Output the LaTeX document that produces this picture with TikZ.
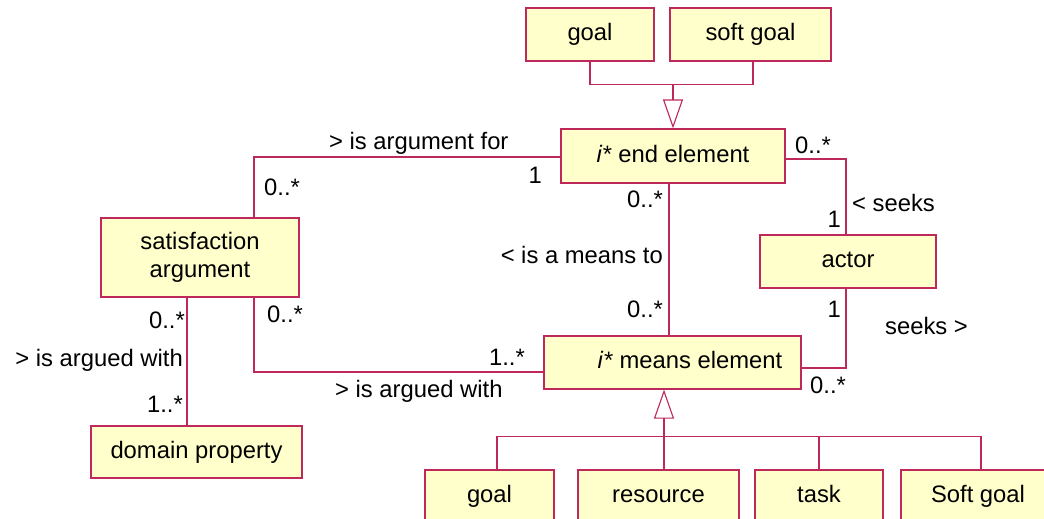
\documentclass[tikz,border=0pt]{standalone}
\usepackage{fontspec}
\setmainfont{Liberation Sans}
\usetikzlibrary{arrows.meta}
\definecolor{lc}{RGB}{190,40,90}
\definecolor{bf}{RGB}{255,255,204}
\tikzset{
  box/.style={draw=lc, fill=bf, line width=1.2pt, inner sep=0pt, rectangle,
    font=\fontsize{23.8}{28}\selectfont},
  onel/.style={text height=17pt, text depth=5pt},
  lowbox/.style={text height=32pt, text depth=28pt},
  conn/.style={draw=lc, line width=1.1pt},
  gen/.style={conn, -{Triangle[open, length=29pt, width=20pt, line width=1.1pt]}},
  lbl/.style={inner sep=0pt, font=\fontsize{23.8}{28}\selectfont}
}
\begin{document}
\begin{tikzpicture}[x=1pt, y=-1pt]
\useasboundingbox (0,0) rectangle (1044,519);
\fill[white] (0,0) rectangle (1044,519);
\clip (0,0) rectangle (1044,519);

% boxes
\node[box, onel, minimum width=128pt, minimum height=53pt] (g1) at (590,34.5) {goal};
\node[box, onel, minimum width=161pt, minimum height=53pt] (sg1) at (750.5,34.5) {soft goal};
\node[box, onel, minimum width=224pt, minimum height=54pt] (endel) at (673,156) {\textit{i*} end element};
\node[box, align=center, minimum width=198pt, minimum height=79pt] (sat) at (200,257.5) {satisfaction\\argument};
\node[box, onel, minimum width=176pt, minimum height=53pt] (actor) at (848,261.5) {actor};
\node[box, onel, minimum width=257pt, minimum height=53pt] (means) at (672.5,362.5) {\hspace*{35pt}\textit{i*} means element};
\node[box, onel, minimum width=211pt, minimum height=52pt] (domain) at (196.5,452) {domain property};
\node[box, lowbox, minimum width=129pt] (b1) at (489.5,500) {goal};
\node[box, lowbox, minimum width=161pt] (b2) at (658.5,500) {resource};
\node[box, lowbox, minimum width=128pt] (b3) at (819,500) {task};
\node[box, lowbox, minimum width=154pt] (b4) at (978,500) {Soft goal};

% top generalization
\coordinate (tbar) at (673,84);
\draw[conn] (g1.south) -- ++(0,23) -| ([xshift=2.5pt]sg1.south);
\draw[gen] (tbar) -- (endel.north);

% bottom generalization
\coordinate (bbar) at (664,437);
\draw[conn] ([xshift=7.5pt]b1.north) -- ++(0,-33) -| ([xshift=3pt]b4.north);
\draw[conn] (bbar) -- ([xshift=5.5pt]b2.north);
\draw[conn] (b3.north) -- (b3.north |- bbar);
\draw[gen] (bbar) -- (bbar |- means.south);

% associations
\draw[conn] ([yshift=-1pt]endel.west) -| ([xshift=54pt]sat.north);
\draw[conn] ([yshift=-3pt]endel.east) -| ([xshift=-2pt]actor.north);
\draw[conn] ([xshift=-4pt]endel.south) -- ([xshift=-4pt]endel.south |- means.north);
\draw[conn] ([xshift=-2pt]actor.south) |- ([yshift=-5.5pt]means.east);
\draw[conn] ([xshift=54pt]sat.south) |- ([yshift=-9.5pt]means.west);
\draw[conn] ([xshift=-13pt]sat.south) -- ([xshift=-13pt]sat.south |- domain.north);

% labels
\node[lbl, anchor=base west] (l1) at (329,149) {> is argument for};
\node[lbl, anchor=base east] (l2) at (542,183) {1};
\node[lbl, anchor=base west] (l3) at (264,195) {0..*};
\node[lbl, anchor=base west] (l4) at (795,153) {0..*};
\node[lbl, anchor=base west] (l5) at (852,211) {< seeks};
\node[lbl, anchor=base east] (l6) at (841,227) {1};
\node[lbl, anchor=base west] (l7) at (627,207) {0..*};
\node[lbl, anchor=base east] (l8) at (663,263) {< is a means to};
\node[lbl, anchor=base west] (l9) at (627,317) {0..*};
\node[lbl, anchor=base east] (l10) at (841,317) {1};
\node[lbl, anchor=base west] (l11) at (885,334) {seeks >};
\node[lbl, anchor=base west] (l12) at (810,393) {0..*};
\node[lbl, anchor=base east] (l13) at (525,365) {1..*};
\node[lbl, anchor=base west] (l14) at (335,397) {> is argued with};
\node[lbl, anchor=base west] (l15) at (267,322) {0..*};
\node[lbl, anchor=base east] (l16) at (185,328) {0..*};
\node[lbl, anchor=base east] (l17) at (183,366) {> is argued with};
\node[lbl, anchor=base east] (l18) at (183,412) {1..*};
\end{tikzpicture}
\end{document}
